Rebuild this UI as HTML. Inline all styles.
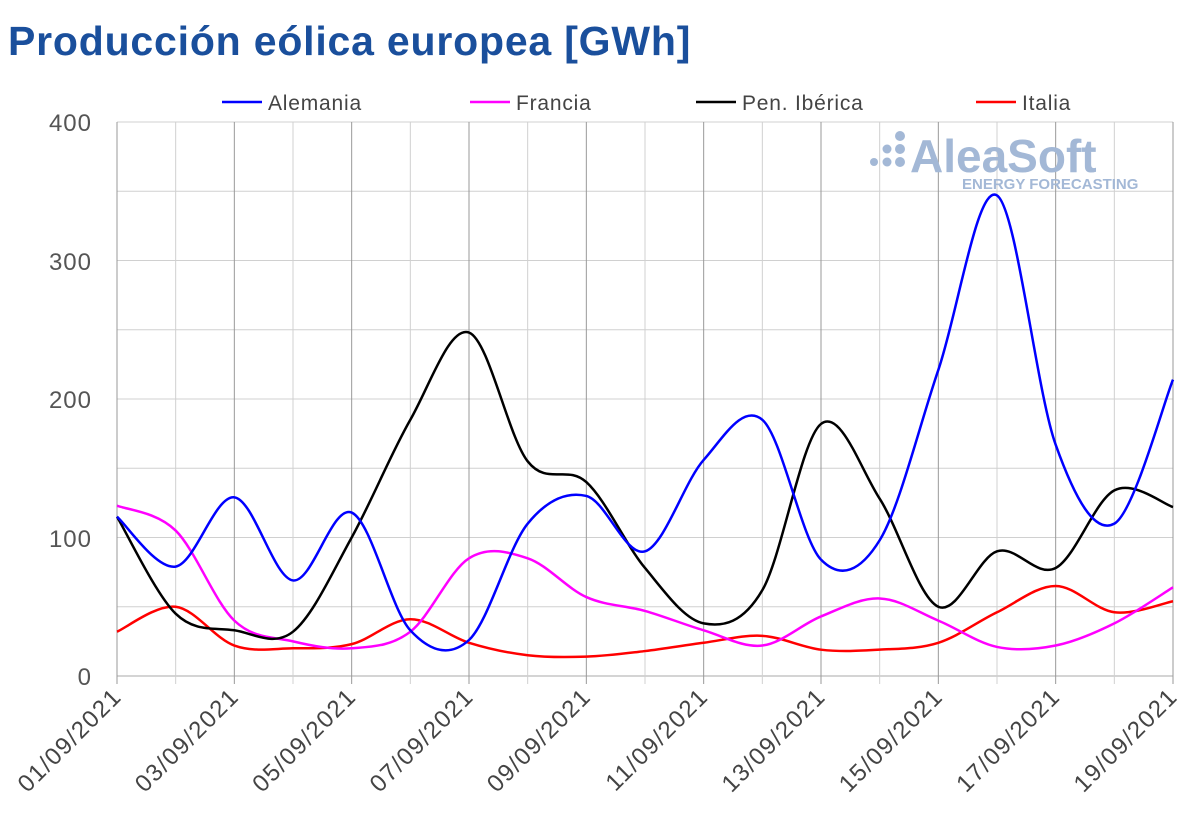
<!DOCTYPE html>
<html><head><meta charset="utf-8"><style>
body{margin:0;background:#fff;width:1200px;height:835px;overflow:hidden;font-family:"Liberation Sans",sans-serif}
</style></head><body>
<svg id="s" width="1200" height="835" xmlns="http://www.w3.org/2000/svg">
<text x="8" y="55" font-family="Liberation Sans" font-weight="bold" font-size="41" letter-spacing="0.8" fill="#1a4f9c">Producción eólica europea [GWh]</text>
<g id="grid"></g>
<g font-size="24" fill="#555" text-anchor="end" font-family="Liberation Sans" letter-spacing="1">
<text x="92" y="131">400</text><text x="92" y="270">300</text><text x="92" y="408">200</text><text x="92" y="547">100</text><text x="92" y="685">0</text>
</g>
<g font-family="Liberation Sans" font-weight="bold" fill="#a3b8d6">
<text x="910" y="172" font-size="46">AleaSoft</text>
<text x="962" y="189" font-size="15">ENERGY FORECASTING</text>
<circle cx="900" cy="136" r="5"/><circle cx="900" cy="149" r="5"/><circle cx="900" cy="162" r="5"/>
<circle cx="887" cy="149" r="4.5"/><circle cx="887" cy="162" r="4.5"/><circle cx="874" cy="162" r="4"/>
</g>
<g font-size="21" fill="#444" font-family="Liberation Sans" letter-spacing="0.8">
<line x1="222" y1="102" x2="262" y2="102" stroke="#0000ff" stroke-width="2.5"/><text x="268" y="110">Alemania</text>
<line x1="470" y1="102" x2="510" y2="102" stroke="#ff00ff" stroke-width="2.5"/><text x="516" y="110">Francia</text>
<line x1="696" y1="102" x2="736" y2="102" stroke="#000" stroke-width="2.5"/><text x="742" y="110">Pen. Ibérica</text>
<line x1="976" y1="102" x2="1016" y2="102" stroke="#ff0000" stroke-width="2.5"/><text x="1022" y="110">Italia</text>
</g>
<g id="lines"></g>
<g id="xl" font-size="24" fill="#444" font-family="Liberation Sans" text-anchor="end" letter-spacing="1.5"></g>
</svg>
<script>
var ns="http://www.w3.org/2000/svg",X0=117,DX=(1173-117)/18,Y0=676,K=554/400;
function el(p,t,a,txt){var e=document.createElementNS(ns,t);for(var k in a)e.setAttribute(k,a[k]);if(txt)e.textContent=txt;document.getElementById(p).appendChild(e);}
for(var v=0;v<=400;v+=50){var y=Y0-v*K;el("grid","line",{x1:X0,x2:1173,y1:y,y2:y,stroke:v==0?"#aaa":"#d0d0d0","stroke-width":1});}
for(var i=0;i<=18;i++){var x=X0+i*DX;el("grid","line",{x1:x,x2:x,y1:122,y2:684,stroke:i%2==0?"#999":"#d0d0d0","stroke-width":1});
if(i%2==0){var d=(i+1<10?"0":"")+(i+1)+"/09/2021";el("xl","text",{x:x+6,y:698,transform:"rotate(-45 "+(x+6)+" 698)"},d);}}
var S={"#0000ff":[115,79,129,69,118,33,26,110,130,90,156,185,84,98,221,347,167,110,214],
"#ff00ff":[123,105,40,25,20,32,85,85,57,47,33,22,43,56,40,21,22,38,64],
"#000000":[115,45,33,32,100,185,248,155,140,78,38,62,182,128,50,90,78,134,122],
"#ff0000":[32,50,22,20,23,41,24,15,14,18,24,29,19,19,24,46,65,46,54]};
var order=["#ff0000","#ff00ff","#000000","#0000ff"];
order.forEach(function(c){var a=S[c],P=a.map(function(v,i){return[X0+i*DX,Y0-v*K]});
var d="M"+P[0][0]+","+P[0][1];
for(var i=0;i<P.length-1;i++){var p0=P[Math.max(i-1,0)],p1=P[i],p2=P[i+1],p3=P[Math.min(i+2,P.length-1)],t=6;
d+=" C"+(p1[0]+(p2[0]-p0[0])/t)+","+(p1[1]+(p2[1]-p0[1])/t)+" "+(p2[0]-(p3[0]-p1[0])/t)+","+(p2[1]-(p3[1]-p1[1])/t)+" "+p2[0]+","+p2[1];}
el("lines","path",{d:d,fill:"none",stroke:c,"stroke-width":2.5});});
</script>
</body></html>
